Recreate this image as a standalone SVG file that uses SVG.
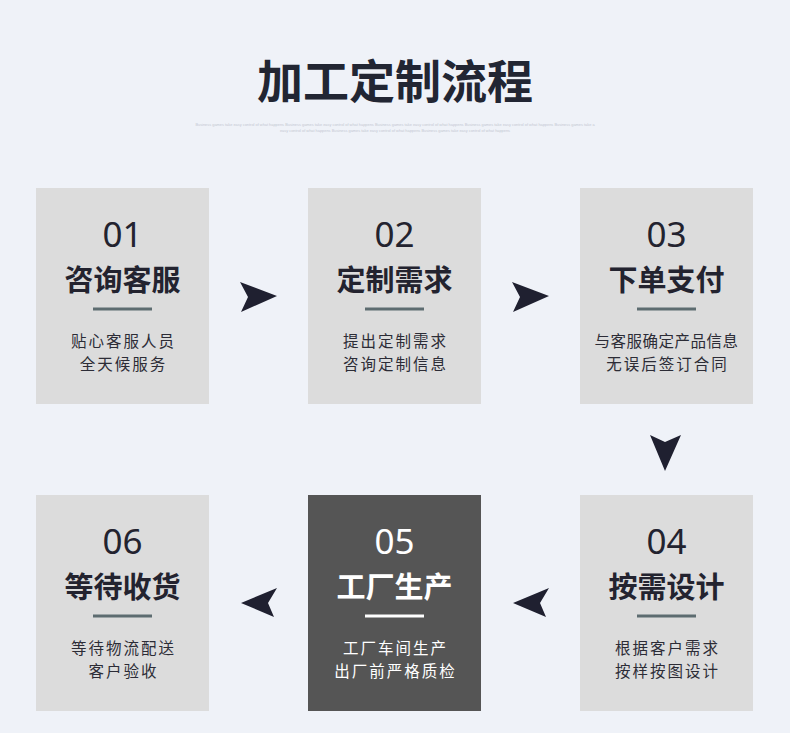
<svg xmlns="http://www.w3.org/2000/svg" width="790" height="733" viewBox="0 0 790 733">
<style>
.cjk{font-family:"Noto Sans CJK SC","Noto Sans",sans-serif}
.box{fill:#dcdcdc}
.dark{fill:#555555}
.num{font-family:"Noto Sans","Noto Sans CJK SC",sans-serif;font-size:35px;fill:#23232f;text-anchor:middle}
.ttl{font-size:29px;font-weight:700;fill:#23232f;text-anchor:middle}
.desc{font-size:15.5px;letter-spacing:2px;fill:#2c2c36;text-anchor:middle}
.w{fill:#ffffff}
.bar{stroke:#5d6c70;stroke-width:3}
.barw{stroke:#ffffff;stroke-width:3}
.arr{fill:#1f2030}
.tiny{font-family:"Liberation Sans",sans-serif;font-size:3.9px;fill:#c4c8d2;text-anchor:middle}
</style>
<rect width="790" height="733" fill="#eff2f8"/>
<text x="395" y="98" class="cjk" style="font-size:46px;font-weight:700;fill:#222633;text-anchor:middle">加工定制流程</text>
<text class="tiny"><tspan x="395" y="126">Business games take easy control of what happens Business games take easy control of what happens Business games take easy control of what happens Business games take easy control of what happens Business games take a</tspan><tspan x="395" y="132">easy control of what happens Business games take easy control of what happens Business games take easy control of what happens</tspan></text>

<g id="node1">
<rect x="36" y="188" width="173" height="216" class="box"/>
<text x="122.5" y="247" class="num">01</text>
<text x="122.5" y="291" class="cjk ttl">咨询客服</text>
<line x1="93" y1="309" x2="152" y2="309" class="bar"/>
<text x="123.5" y="347" class="cjk desc">贴心客服人员</text>
<text x="123.5" y="370" class="cjk desc">全天候服务</text>
</g>
<g id="node2">
<rect x="308" y="188" width="173" height="216" class="box"/>
<text x="394.5" y="247" class="num">02</text>
<text x="394.5" y="291" class="cjk ttl">定制需求</text>
<line x1="365" y1="309" x2="424" y2="309" class="bar"/>
<text x="395.5" y="347" class="cjk desc">提出定制需求</text>
<text x="395.5" y="370" class="cjk desc">咨询定制信息</text>
</g>
<g id="node3">
<rect x="580" y="188" width="173" height="216" class="box"/>
<text x="666.5" y="247" class="num">03</text>
<text x="666.5" y="291" class="cjk ttl">下单支付</text>
<line x1="637" y1="309" x2="696" y2="309" class="bar"/>
<text x="666.5" y="347" class="cjk desc" style="letter-spacing:0.5px">与客服确定产品信息</text>
<text x="667.5" y="370" class="cjk desc">无误后签订合同</text>
</g>
<g id="node4">
<rect x="580" y="495" width="173" height="216" class="box"/>
<text x="666.5" y="554" class="num">04</text>
<text x="666.5" y="598" class="cjk ttl">按需设计</text>
<line x1="637" y1="616" x2="696" y2="616" class="bar"/>
<text x="667.5" y="654" class="cjk desc">根据客户需求</text>
<text x="667.5" y="677" class="cjk desc">按样按图设计</text>
</g>
<g id="node5">
<rect x="308" y="495" width="173" height="216" class="dark"/>
<text x="394.5" y="554" class="num w">05</text>
<text x="394.5" y="598" class="cjk ttl w">工厂生产</text>
<line x1="365" y1="616" x2="424" y2="616" class="barw"/>
<text x="395.5" y="654" class="cjk desc w">工厂车间生产</text>
<text x="395.5" y="677" class="cjk desc w">出厂前严格质检</text>
</g>
<g id="node6">
<rect x="36" y="495" width="173" height="216" class="box"/>
<text x="122.5" y="554" class="num">06</text>
<text x="122.5" y="598" class="cjk ttl">等待收货</text>
<line x1="93" y1="616" x2="152" y2="616" class="bar"/>
<text x="123.5" y="654" class="cjk desc">等待物流配送</text>
<text x="123.5" y="677" class="cjk desc">客户验收</text>
</g>

<g id="connectors">
<polygon class="arr" points="240,282 277,296 241,312 248,297"/>
<polygon class="arr" points="512,282 549,296 513,312 520,297"/>
<polygon class="arr" points="650,435 665,442 681,435 665,471"/>
<polygon class="arr" points="241,603 277,588 268,603 274,617"/>
<polygon class="arr" points="513,603 549,588 540,603 546,617"/>
</g>
</svg>
